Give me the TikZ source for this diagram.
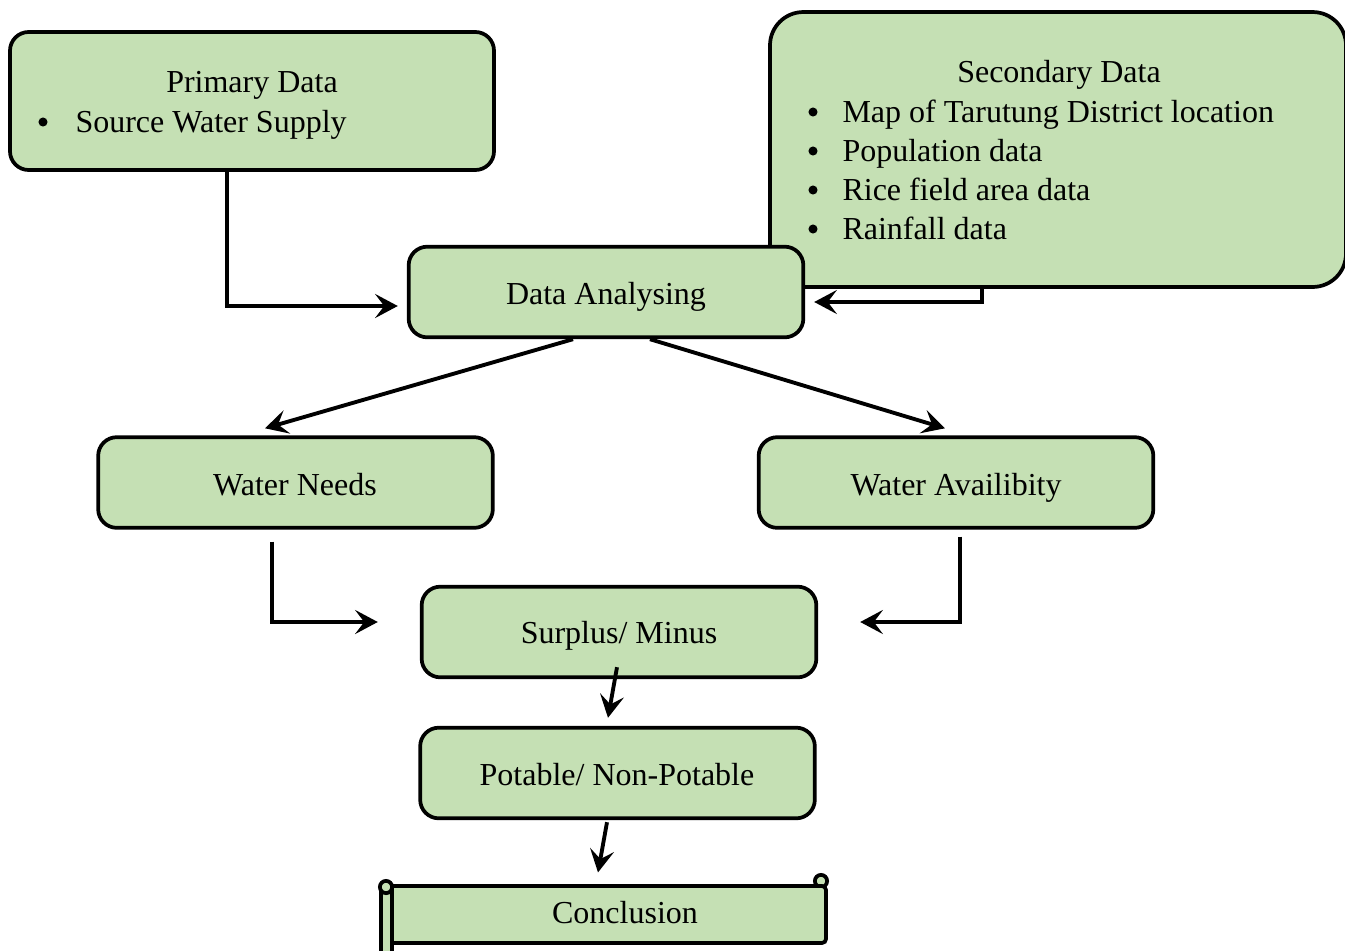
\documentclass[tikz,border=0pt]{standalone}
\usepackage{fontspec}
\setmainfont{Liberation Serif}
\usetikzlibrary{arrows.meta,calc}
\definecolor{boxgreen}{HTML}{C5E0B4}
\tikzset{
  box/.style={draw=black, line width=1.4pt, fill=boxgreen, rounded corners=7pt, inner sep=0pt},
  stdbox/.style={box, minimum width=148pt, minimum height=34pt},
  arr/.style={line width=1.45pt, -{Stealth[length=8.5pt,width=9pt,inset=3.4pt]}},
  txt/.style={anchor=base, inner sep=0pt, font=\fontsize{12}{14.6}\selectfont},
  txtw/.style={txt, anchor=base west},
  bul/.style={circle, fill=black, inner sep=0pt, minimum size=3.4pt},
  scroll/.style={draw=black, line width=1.4pt, fill=boxgreen},
}
\begin{document}
\begin{tikzpicture}[x=0.375pt,y=-0.375pt]
\useasboundingbox (0,0) rectangle (1345,950);

% boxes
\node[box, minimum width=181.5pt, minimum height=51.75pt] (prim) at (252,101) {};
\node[box, rounded corners=12.5pt, minimum width=216pt, minimum height=103.1pt] (sec) at (1058,149.5) {};
\node[stdbox] (da) at (606,292) {};
\node[stdbox] (wn) at (295.5,482.5) {};
\node[stdbox] (wa) at (956,482.5) {};
\node[stdbox] (sm) at (619,632) {};
\node[stdbox] (pot) at (617.5,773) {};

% conclusion scroll
\node[inner sep=0pt, minimum width=162.75pt, minimum height=21.4pt] (conc) at (609,914.5) {};
\draw[scroll] (821,881) circle (2.3pt);
\draw[scroll, rounded corners=1.5pt] (392,886) -- (826,886) -- (826,943) -- (392,943);
\draw[scroll] (381,965) -- (381,887) -- (392,887) -- (392,965);
\draw[scroll] (386,887) circle (2.3pt);

% texts
\node[txt] (tprim) at (252,92) {Primary Data};
\node[bul] (bprim) at (43,122) {};
\node[txtw] (tprim1) at (75,132) {Source Water Supply};

\node[txt] (tsec) at (1059,82) {Secondary Data};
\node[bul] (b1) at (813,112) {};
\node[txtw] (s1) at (842,122) {Map of Tarutung District location};
\node[bul] (b2) at (813,151) {};
\node[txtw] (s2) at (842,161) {Population data};
\node[bul] (b3) at (813,190) {};
\node[txtw] (s3) at (842,200) {Rice field area data};
\node[bul] (b4) at (813,229) {};
\node[txtw] (s4) at (842,239) {Rainfall data};

\node[txt] (tda) at (606,304) {Data Analysing};
\node[txt] (twn) at (295,495) {Water Needs};
\node[txt] (twa) at (956,495) {Water Availibity};
\node[txt] (tsm) at (619,643) {Surplus/ Minus};
\node[txt] (tpot) at (617,785) {Potable/ Non-Potable};
\node[txt] (tconc) at (625,923) {Conclusion};

% connectors
\draw[arr] ($(prim.south)+(-25,0)$) |- ($(da.west)+(-9,14)$);
\draw[arr] ($(sec.south)+(-76,0)$) |- ($(da.east)+(9,10)$);
\draw[arr] ($(da.south)+(-33,0)$) -- ($(wn.north)+(-30.5,-7)$);
\draw[arr] ($(da.south)+(44,0)$) -- ($(wa.north)+(-11,-7)$);
\draw[arr] ($(wn.south)+(-23.5,12)$) |- ($(sm.west)+(-42,-10)$);
\draw[arr] ($(wa.south)+(4,7)$) |- ($(sm.east)+(42,-10)$);
\draw[arr] ($(sm.south)+(-2,-12)$) -- ($(pot.north)+(-9.5,-8)$);
\draw[arr] ($(pot.south)+(-10.5,2)$) -- ($(conc.north)+(-11,-13)$);
\end{tikzpicture}
\end{document}
